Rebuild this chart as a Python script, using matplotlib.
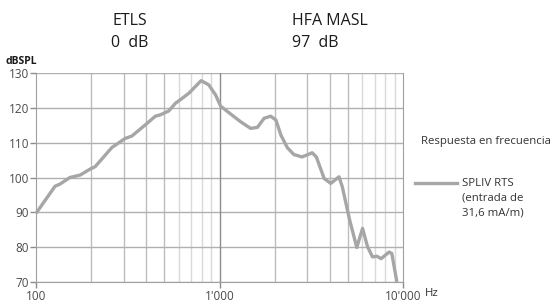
import matplotlib
matplotlib.use("Agg")
import matplotlib.pyplot as plt
from matplotlib.ticker import FixedLocator, NullFormatter

plt.rcParams['font.family'] = ['Open Sans', 'DejaVu Sans']

freq = [100, 127, 135, 153, 174, 197, 210, 259, 306, 333, 394, 447, 476, 529, 575, 625,
        681, 794, 874, 952, 1014, 1126, 1304, 1477, 1610, 1750, 1900, 2030, 2160, 2340,
        2540, 2820, 3200, 3370, 3720, 4040, 4480, 4670, 5120, 5600, 6020, 6410, 6820,
        7200, 7600, 8400, 8690, 9260]
dbspl = [89.7, 97.5, 98.1, 100.0, 100.7, 102.4, 103.1, 108.6, 111.2, 111.9, 115.1, 117.6,
         118.0, 119.1, 121.3, 122.7, 124.2, 127.8, 126.6, 123.7, 120.5, 118.6, 116.0, 114.1,
         114.4, 117.0, 117.6, 116.5, 112.2, 108.6, 106.6, 105.9, 107.1, 105.9, 99.7, 98.3,
         100.2, 97.3, 87.8, 79.9, 85.4, 80.1, 77.2, 77.4, 76.7, 78.6, 78.2, 70.0]

y_ticks = [70, 80, 90, 100, 110, 120, 130]
x_major = [100, 1000, 10000]
x_labels = ["100", "1'000", "10'000"]
minor_mid = [200, 300, 400, 500, 2000, 3000, 4000, 5000]
minor_light = [600, 700, 800, 900, 6000, 7000, 8000, 9000]

fig = plt.figure(figsize=(5.53, 3.02), dpi=100)
ax = fig.add_axes([36/553, 20/302, (403-36)/553, (282-73)/302])
ax.set_xscale('log')
ax.set_xlim(100, 10000)
ax.set_ylim(70, 130)

for f in minor_light:
    ax.axvline(f, color='#d9d9d9', lw=1.0, zorder=1)
for f in minor_mid:
    ax.axvline(f, color='#bdbdbd', lw=1.0, zorder=1)
for y in y_ticks:
    ax.axhline(y, color='#b0b0b0', lw=1.0, zorder=1)
ax.axvline(1000, color='#8c8c8c', lw=1.0, zorder=1)

ax.plot(freq, dbspl, color='#a6a6a6', lw=2.4, solid_joinstyle='round',
        solid_capstyle='butt', zorder=3, clip_on=False)

ax.spines['top'].set_visible(False)
ax.spines['left'].set_color('#a0a0a0')
ax.spines['bottom'].set_color('#a0a0a0')
ax.spines['right'].set_color('#a0a0a0')

ax.xaxis.set_major_locator(FixedLocator(x_major))
ax.xaxis.set_minor_locator(FixedLocator([]))
ax.xaxis.set_minor_formatter(NullFormatter())
ax.set_xticklabels(x_labels)
ax.set_yticks(y_ticks)
ax.tick_params(axis='both', which='major', length=4, width=1, color='#8c8c8c',
               labelsize=8.5, labelcolor='#4a4a4a', pad=1)
ax.tick_params(axis='x', pad=2)
lbls = ax.get_xticklabels()
lbls[-1].set_horizontalalignment('center')

title_kw = dict(va='center', fontsize=11.5, color='#1a1a1a')
fig.text(130/553, 1-21/302, "ETLS", ha='center', **title_kw)
fig.text(130/553, 1-43/302, "0  dB", ha='center', **title_kw)
fig.text(292/553, 1-21/302, "HFA MASL", ha='left', **title_kw)
fig.text(292/553, 1-43/302, "97  dB", ha='left', **title_kw)
fig.text(5/553, 1-61/302, "dBSPL", ha='left', va='center', fontsize=7.5, fontweight='bold', color='#1a1a1a')
fig.text(421/553, 1-141/302, "Respuesta en frecuencia", ha='left', va='center', fontsize=8.2, color='#333333')
fig.text(425/553, 1-293/302, "Hz", ha='left', va='center', fontsize=8.2, color='#333333')

fig.add_artist(plt.Line2D([415/553, 457/553], [1-183/302, 1-183/302], color='#a6a6a6', lw=2.4,
                          transform=fig.transFigure))
leg_kw = dict(ha='left', va='center', fontsize=8.2, color='#333333')
fig.text(462/553, 1-183/302, "SPLIV RTS", **leg_kw)
fig.text(462/553, 1-198/302, "(entrada de", **leg_kw)
fig.text(462/553, 1-213/302, "31,6 mA/m)", **leg_kw)

fig.savefig("out.png", dpi=100)
